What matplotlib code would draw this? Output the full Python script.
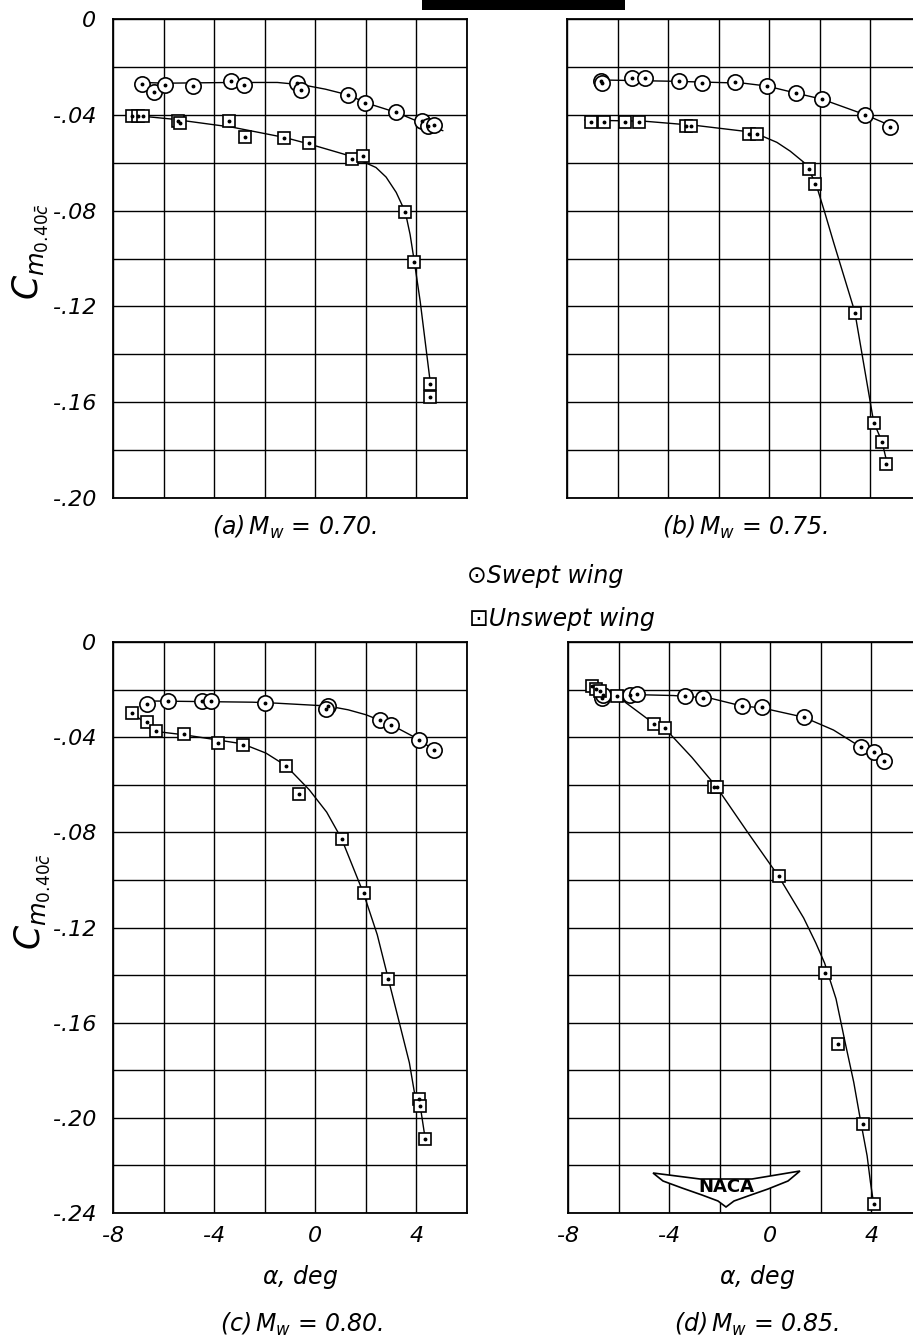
import numpy as np
import matplotlib.pyplot as plt
from matplotlib.patches import Polygon, Rectangle

plt.rcParams['font.family'] = ['DejaVu Sans']
plt.rcParams['mathtext.fontset'] = 'dejavusans'

# ---- data (alpha in deg, Cm about 0.40 c-bar) ----
# (a) Mw = 0.70
a_sw_alpha = [-6.85, -6.38, -5.94, -4.83, -3.33, -2.81, -0.71, -0.57, 1.31, 1.98, 3.20, 4.22, 4.45, 4.71]
a_sw_cm = [-0.027, -0.0305, -0.0276, -0.028, -0.026, -0.0276, -0.0267, -0.0296, -0.0317, -0.035, -0.039, -0.0425, -0.0448, -0.0443]
a_un_alpha = [-7.26, -7.0, -6.81, -5.41, -5.35, -3.43, -2.77, -1.23, -0.26, 1.45, 1.90, 3.56, 3.92, 4.55, 4.55]
a_un_cm = [-0.0404, -0.0404, -0.0404, -0.0425, -0.0434, -0.0425, -0.0493, -0.0497, -0.0518, -0.0585, -0.0572, -0.0806, -0.1015, -0.1524, -0.158]
a_sw_fair_alpha = [-6.85, -5.9, -3.3, -1.5, -0.5, 0.4, 1.3, 2.0, 3.2, 4.0, 5.04]
a_sw_fair_cm = [-0.0265, -0.0268, -0.0265, -0.0265, -0.0275, -0.0293, -0.0317, -0.035, -0.039, -0.0425, -0.0466]
a_un_fair_alpha = [-7.43, -5.66, -3.27, -1.2, -0.24, 1.35, 1.94, 2.4, 2.8, 3.2, 3.56, 3.75, 3.92, 4.15, 4.35, 4.55]
a_un_fair_cm = [-0.040, -0.0418, -0.0452, -0.0495, -0.0522, -0.0571, -0.0598, -0.062, -0.066, -0.0724, -0.0806, -0.090, -0.1015, -0.118, -0.135, -0.152]

# (b) Mw = 0.75
b_sw_alpha = [-6.66, -6.62, -5.44, -4.91, -3.56, -2.67, -1.35, -0.09, 1.07, 2.09, 3.80, 4.76]
b_sw_cm = [-0.0258, -0.0268, -0.0246, -0.0246, -0.026, -0.0268, -0.0265, -0.028, -0.031, -0.0335, -0.040, -0.045]
b_un_alpha = [-7.06, -6.53, -5.70, -5.15, -3.3, -3.1, -0.8, -0.5, 1.56, 1.79, 3.38, 4.13, 4.46, 4.62]
b_un_cm = [-0.0429, -0.0429, -0.0429, -0.0429, -0.0447, -0.0447, -0.0481, -0.0481, -0.0625, -0.0688, -0.1226, -0.1688, -0.1765, -0.1859]
b_sw_fair_alpha = [-6.66, -6.43, -3.79, -1.02, -0.09, 1.0, 2.09, 3.80, 4.79]
b_sw_fair_cm = [-0.0255, -0.0255, -0.026, -0.0268, -0.028, -0.0308, -0.0335, -0.040, -0.0445]
b_un_fair_alpha = [-7.29, -4.91, -2.86, -0.88, -0.3, 0.3, 0.83, 1.36, 1.82, 2.2, 2.55, 3.38, 4.13, 4.46, 4.62]
b_un_fair_cm = [-0.0422, -0.0427, -0.0445, -0.047, -0.0488, -0.0515, -0.0552, -0.0598, -0.068, -0.081, -0.0935, -0.1222, -0.1684, -0.1765, -0.1837]

# (c) Mw = 0.80
c_sw_alpha = [-6.64, -5.82, -4.49, -4.11, -1.99, 0.49, 0.42, 2.56, 3.0, 4.12, 4.71]
c_sw_cm = [-0.026, -0.0246, -0.0246, -0.0246, -0.0257, -0.0271, -0.028, -0.0327, -0.0348, -0.0411, -0.0456]
c_un_alpha = [-7.23, -6.64, -6.31, -5.19, -3.84, -2.85, -1.16, -0.63, 1.04, 1.91, 2.89, 4.12, 4.15, 4.35]
c_un_cm = [-0.0299, -0.0338, -0.0376, -0.0386, -0.0425, -0.0432, -0.052, -0.0637, -0.0827, -0.1057, -0.1417, -0.192, -0.195, -0.209]
c_sw_fair_alpha = [-6.44, -2.48, -1.56, 0.49, 1.3, 2.01, 3.0, 4.12, 4.71]
c_sw_fair_cm = [-0.0248, -0.0253, -0.0257, -0.0269, -0.0285, -0.0306, -0.0348, -0.0411, -0.0456]
c_un_fair_alpha = [-7.23, -6.31, -5.19, -2.88, -1.95, -1.16, -0.24, 0.45, 1.04, 1.91, 2.45, 2.89, 3.3, 3.72, 3.92, 4.15, 4.35]
c_un_fair_cm = [-0.0299, -0.0376, -0.039, -0.0428, -0.0467, -0.052, -0.0621, -0.0715, -0.0827, -0.1057, -0.123, -0.1417, -0.159, -0.1768, -0.1893, -0.195, -0.209]

# (d) Mw = 0.85
d_sw_alpha = [-6.67, -6.6, -5.54, -5.28, -3.37, -2.68, -1.12, -0.33, 1.32, 3.6, 4.09, 4.49]
d_sw_cm = [-0.0236, -0.0222, -0.0222, -0.022, -0.0229, -0.0236, -0.0269, -0.0274, -0.0316, -0.0443, -0.0463, -0.0499]
d_un_alpha = [-7.04, -6.89, -6.73, -6.07, -4.59, -4.16, -2.22, -2.1, 0.33, 2.15, 2.68, 3.67, 4.09]
d_un_cm = [-0.0185, -0.0198, -0.0208, -0.0227, -0.0344, -0.0362, -0.061, -0.061, -0.0985, -0.139, -0.1688, -0.2027, -0.2363]
d_sw_fair_alpha = [-6.73, -5.02, -3.83, -2.38, -1.12, -0.33, 1.32, 2.5, 3.6, 4.09, 4.49]
d_sw_fair_cm = [-0.0229, -0.0222, -0.0225, -0.0236, -0.0269, -0.0277, -0.0316, -0.037, -0.0443, -0.0463, -0.0499]
d_un_fair_alpha = [-7.04, -6.07, -4.59, -4.16, -3.1, -2.14, -0.92, 0.33, 1.32, 1.8, 2.15, 2.6, 2.97, 3.3, 3.56, 3.83, 3.96, 4.09]
d_un_fair_cm = [-0.0185, -0.0227, -0.0344, -0.0364, -0.0485, -0.0607, -0.0796, -0.0985, -0.116, -0.1265, -0.135, -0.150, -0.1688, -0.185, -0.2006, -0.216, -0.227, -0.2363]

panel_titles = ['(a)$\\,M_w$ = 0.70.', '(b)$\\,M_w$ = 0.75.', '(c)$\\,M_w$ = 0.80.', '(d)$\\,M_w$ = 0.85.']
ylabel = r'$C_{m_{0.40\bar{c}}}$'
xlabel = r'$\alpha$, deg'

W, H = 913, 1340
fig = plt.figure(figsize=(W / 100, H / 100), dpi=100)


def box(x0, y0, x1, y1):
    # pixel box (top-left origin) -> figure fraction rect
    return [x0 / W, 1 - y1 / H, (x1 - x0) / W, (y1 - y0) / H]


def fxy(x, y):
    return x / W, 1 - y / H


panels = [
    dict(rect=box(113, 19, 467, 498), ylim=-0.20, sw=(a_sw_alpha, a_sw_cm), un=(a_un_alpha, a_un_cm),
         swf=(a_sw_fair_alpha, a_sw_fair_cm), unf=(a_un_fair_alpha, a_un_fair_cm), left=True, bottom=False),
    dict(rect=box(567, 19, 921, 498), ylim=-0.20, sw=(b_sw_alpha, b_sw_cm), un=(b_un_alpha, b_un_cm),
         swf=(b_sw_fair_alpha, b_sw_fair_cm), unf=(b_un_fair_alpha, b_un_fair_cm), left=False, bottom=False),
    dict(rect=box(113, 642, 467, 1213), ylim=-0.24, sw=(c_sw_alpha, c_sw_cm), un=(c_un_alpha, c_un_cm),
         swf=(c_sw_fair_alpha, c_sw_fair_cm), unf=(c_un_fair_alpha, c_un_fair_cm), left=True, bottom=True),
    dict(rect=box(568, 642, 922, 1213), ylim=-0.24, sw=(d_sw_alpha, d_sw_cm), un=(d_un_alpha, d_un_cm),
         swf=(d_sw_fair_alpha, d_sw_fair_cm), unf=(d_un_fair_alpha, d_un_fair_cm), left=False, bottom=True),
]

for p in panels:
    ax = fig.add_axes(p['rect'])
    ax.set_xlim(-8, 6)
    ax.set_ylim(p['ylim'], 0)
    ax.set_xticks(np.arange(-8, 6.1, 4))
    ax.set_xticks(np.arange(-8, 6.1, 2), minor=True)
    ax.set_yticks(np.arange(p['ylim'], 0.001, 0.04))
    ax.set_yticks(np.arange(p['ylim'], 0.001, 0.02), minor=True)
    ax.grid(True, which='both', color='black', lw=1.0)
    ax.tick_params(which='both', length=0)
    for s in ax.spines.values():
        s.set_linewidth(1.3)
    if p['left']:
        ax.set_yticklabels(['0' if abs(v) < 1e-9 else '-.%02d' % round(-v * 100)
                            for v in ax.get_yticks()], fontsize=16, style='italic')
        ax.tick_params(axis='y', pad=12)
    else:
        ax.set_yticklabels([])
    if p['bottom']:
        ax.set_xticklabels(['%d' % v for v in ax.get_xticks()], fontsize=16, style='italic')
        ax.tick_params(axis='x', pad=9)
    else:
        ax.set_xticklabels([])

    # faired curves
    ax.plot(*p['swf'], color='black', lw=1.0, zorder=3)
    ax.plot(*p['unf'], color='black', lw=1.0, zorder=3)
    # test points
    ax.plot(*p['sw'], ls='none', marker='o', ms=11, mfc='white', mec='black', mew=1.2, zorder=4, clip_on=False)
    ax.plot(*p['un'], ls='none', marker='s', ms=9, mfc='white', mec='black', mew=1.2, zorder=4, clip_on=False)
    ax.plot(*p['sw'], ls='none', marker='o', ms=1.8, color='black', zorder=5, clip_on=False)
    ax.plot(*p['un'], ls='none', marker='o', ms=1.8, color='black', zorder=5, clip_on=False)

# y-axis labels
fig.text(*fxy(30, 252), ylabel, rotation=90, fontsize=25, ha='center', va='center')
fig.text(*fxy(32, 902), ylabel, rotation=90, fontsize=25, ha='center', va='center')

# x-axis labels
fig.text(*fxy(300, 1277), xlabel, fontsize=17, style='italic', ha='center', va='center')
fig.text(*fxy(757, 1277), xlabel, fontsize=17, style='italic', ha='center', va='center')

# panel captions
fig.text(*fxy(295, 527), panel_titles[0], fontsize=17, style='italic', ha='center', va='center')
fig.text(*fxy(745, 527), panel_titles[1], fontsize=17, style='italic', ha='center', va='center')
fig.text(*fxy(302, 1324), panel_titles[2], fontsize=17, style='italic', ha='center', va='center')
fig.text(*fxy(757, 1324), panel_titles[3], fontsize=17, style='italic', ha='center', va='center')

# legend
fig.text(*fxy(467, 576), '\u2299Swept wing', fontsize=17, style='italic', ha='left', va='center')
fig.text(*fxy(469, 619), '\u22a1Unswept wing', fontsize=17, style='italic', ha='left', va='center')

# NACA wing badge in panel (d)
wing_px = [(653, 1173), (700, 1179), (752, 1179), (800, 1171), (788, 1181), (768, 1189), (748, 1196),
           (734, 1201), (726, 1207), (718, 1201), (702, 1195), (682, 1188), (663, 1181)]
wing = Polygon([fxy(x, y) for x, y in wing_px], closed=True, transform=fig.transFigure,
               facecolor='white', edgecolor='black', lw=1.2, zorder=10)
fig.patches.append(wing)
fig.text(*fxy(726, 1187), 'NACA', fontsize=13, weight='bold', ha='center', va='center', zorder=11)

# dark scan smudge at the top edge
fig.patches.append(Rectangle(fxy(422, 10), 203 / W, 10 / H, transform=fig.transFigure,
                             facecolor='black', edgecolor='none'))

fig.savefig('out.png', dpi=100)
